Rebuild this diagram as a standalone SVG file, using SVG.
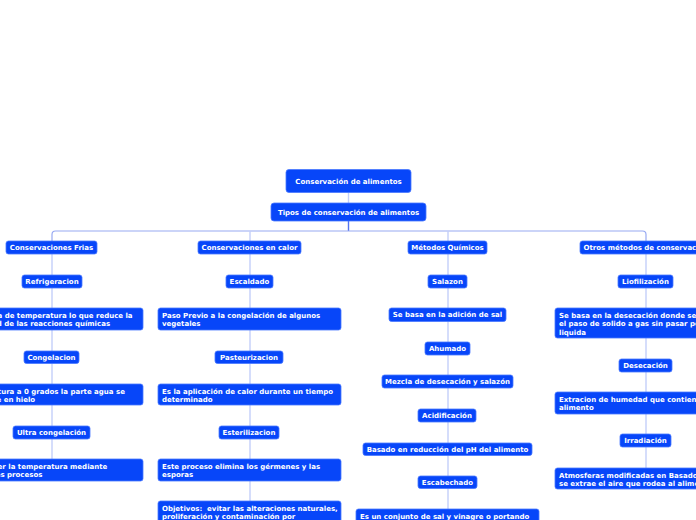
<svg xmlns="http://www.w3.org/2000/svg" width="696" height="520" viewBox="0 0 696 520">
<style>
.n rect{fill:#0746f9;stroke:#4a78ff;stroke-width:0.8}
.n text{font-family:"DejaVu Sans",Verdana,sans-serif;font-weight:bold;font-size:7px;fill:#ffffff}
.c{text-anchor:middle}
.l{fill:none;stroke:#c3cffa;stroke-width:1.4}
.bus{fill:none;stroke:#98aaf2;stroke-width:1.2}
.stub{fill:none;stroke:#5373f0;stroke-width:1.4}
</style>
<rect width="696" height="520" fill="#ffffff"/>
<g id="connectors">
<line class="l" x1="348.5" y1="192" x2="348.5" y2="203"/>
<line class="stub" x1="348.5" y1="221" x2="348.5" y2="231"/>
<path class="bus" d="M52,241 V234.5 Q52,231 55.5,231 H642.5 Q646,231 646,234.5 V241"/>
<line class="l" x1="52" y1="241" x2="52" y2="459"/>
<line class="l" x1="250" y1="231" x2="250" y2="501"/>
<line class="l" x1="448" y1="231" x2="448" y2="509"/>
<line class="l" x1="646" y1="241" x2="646" y2="468"/>
</g>
<g id="root" class="n"><rect x="286" y="169.5" width="125" height="23" rx="3"/><text class="c" x="348.5" y="183.5">Conservación de alimentos</text></g>
<g id="tipos" class="n"><rect x="271" y="203" width="155" height="18" rx="3"/><text class="c" x="348.5" y="214.5">Tipos de conservación de alimentos</text></g>

<g id="frias" class="n"><rect x="6" y="241" width="91" height="13" rx="2.5"/><text class="c" x="51.5" y="250">Conservaciones Frias</text></g>
<g id="refrigeracion" class="n"><rect x="22" y="275" width="60" height="13" rx="2.5"/><text class="c" x="52" y="284">Refrigeracion</text></g>
<g id="refrigeracion-desc" class="n"><rect x="-40" y="308" width="183" height="22" rx="2.5"/><text x="-36" y="318">La bajada de temperatura lo que reduce la</text><text x="-36" y="326.3">velocidad de las reacciones químicas</text></g>
<g id="congelacion" class="n"><rect x="24" y="351" width="55" height="12.5" rx="2.5"/><text class="c" x="51.5" y="359.7">Congelacion</text></g>
<g id="congelacion-desc" class="n"><rect x="-40" y="384" width="183" height="21" rx="2.5"/><text x="-36" y="393.5">Temperatura a 0 grados la parte agua se</text><text x="-36" y="401.7">convierte en hielo</text></g>
<g id="ultra" class="n"><rect x="13" y="426" width="77" height="13" rx="2.5"/><text class="c" x="51.5" y="435">Ultra congelación</text></g>
<g id="ultra-desc" class="n"><rect x="-40" y="459" width="183" height="22" rx="2.5"/><text x="-36" y="469">Descender la temperatura mediante</text><text x="-36" y="477.3">diferentes procesos</text></g>

<g id="calor" class="n"><rect x="198" y="241" width="103" height="13" rx="2.5"/><text class="c" x="249.5" y="250">Conservaciones en calor</text></g>
<g id="escaldado" class="n"><rect x="226" y="275" width="47" height="13" rx="2.5"/><text class="c" x="249.5" y="284">Escaldado</text></g>
<g id="escaldado-desc" class="n"><rect x="158" y="308" width="183" height="22" rx="2.5"/><text x="162" y="318">Paso Previo a la congelación de algunos</text><text x="162" y="326.3">vegetales</text></g>
<g id="pasteurizacion" class="n"><rect x="215" y="351" width="68" height="12.5" rx="2.5"/><text class="c" x="249" y="359.7">Pasteurizacion</text></g>
<g id="pasteurizacion-desc" class="n"><rect x="158" y="384" width="183" height="21" rx="2.5"/><text x="162" y="393.5">Es la aplicación de calor durante un tiempo</text><text x="162" y="401.7">determinado</text></g>
<g id="esterilizacion" class="n"><rect x="219" y="426" width="60" height="13" rx="2.5"/><text class="c" x="249" y="435">Esterilizacion</text></g>
<g id="esterilizacion-desc" class="n"><rect x="158" y="459" width="183" height="22" rx="2.5"/><text x="162" y="469">Este proceso elimina los gérmenes y las</text><text x="162" y="477.3">esporas</text></g>
<g id="objetivos" class="n"><rect x="158" y="501" width="183" height="30" rx="2.5"/><text x="162" y="511" xml:space="preserve">Objetivos:  evitar las alteraciones naturales,</text><text x="162" y="519.3">proliferación y contaminación por</text></g>

<g id="quimicos" class="n"><rect x="408" y="241" width="79" height="13" rx="2.5"/><text class="c" x="447.5" y="250">Métodos Químicos</text></g>
<g id="salazon" class="n"><rect x="428" y="275" width="39" height="13" rx="2.5"/><text class="c" x="447.5" y="284">Salazon</text></g>
<g id="salazon-desc" class="n"><rect x="389" y="308" width="117" height="13.5" rx="2.5"/><text class="c" x="447.5" y="317.3">Se basa en la adición de sal</text></g>
<g id="ahumado" class="n"><rect x="425" y="342" width="45" height="13" rx="2.5"/><text class="c" x="447.5" y="351">Ahumado</text></g>
<g id="ahumado-desc" class="n"><rect x="382" y="375" width="131" height="13" rx="2.5"/><text class="c" x="447.5" y="384">Mezcla de desecación y salazón</text></g>
<g id="acidificacion" class="n"><rect x="418" y="409" width="58" height="13" rx="2.5"/><text class="c" x="447" y="418">Acidificación</text></g>
<g id="acidificacion-desc" class="n"><rect x="363" y="443" width="169" height="12.5" rx="2.5"/><text class="c" x="447.5" y="451.7">Basado en reducción del pH del alimento</text></g>
<g id="escabechado" class="n"><rect x="418" y="476" width="59" height="12.5" rx="2.5"/><text class="c" x="447.5" y="484.7">Escabechado</text></g>
<g id="escabechado-desc" class="n"><rect x="356" y="509" width="183" height="22" rx="2.5"/><text x="360" y="519">Es un conjunto de sal y vinagre o portando</text></g>

<g id="otros" class="n"><rect x="580" y="241" width="132" height="13" rx="2.5"/><text class="c" x="646" y="250">Otros métodos de conservación</text></g>
<g id="liofilizacion" class="n"><rect x="618" y="275" width="55" height="13" rx="2.5"/><text class="c" x="645.5" y="284">Liofilización</text></g>
<g id="liofilizacion-desc" class="n"><rect x="555" y="308" width="183" height="30" rx="2.5"/><text x="559" y="318">Se basa en la desecación donde se produce</text><text x="559" y="326.3">el paso de solido a gas sin pasar por la fase</text><text x="559" y="334.6">liquida</text></g>
<g id="desecacion" class="n"><rect x="619" y="359" width="53" height="13" rx="2.5"/><text class="c" x="645.5" y="368">Desecación</text></g>
<g id="desecacion-desc" class="n"><rect x="555" y="392" width="183" height="22" rx="2.5"/><text x="559" y="402">Extracion de humedad que contiene el</text><text x="559" y="410.3">alimento</text></g>
<g id="irradiacion" class="n"><rect x="620" y="434" width="51" height="13" rx="2.5"/><text class="c" x="645.5" y="443">Irradiación</text></g>
<g id="irradiacion-desc" class="n"><rect x="555" y="468" width="183" height="21" rx="2.5"/><text x="559" y="477.5">Atmosferas modificadas en Basado en que</text><text x="559" y="485.7">se extrae el aire que rodea al alimento</text></g>
</svg>
